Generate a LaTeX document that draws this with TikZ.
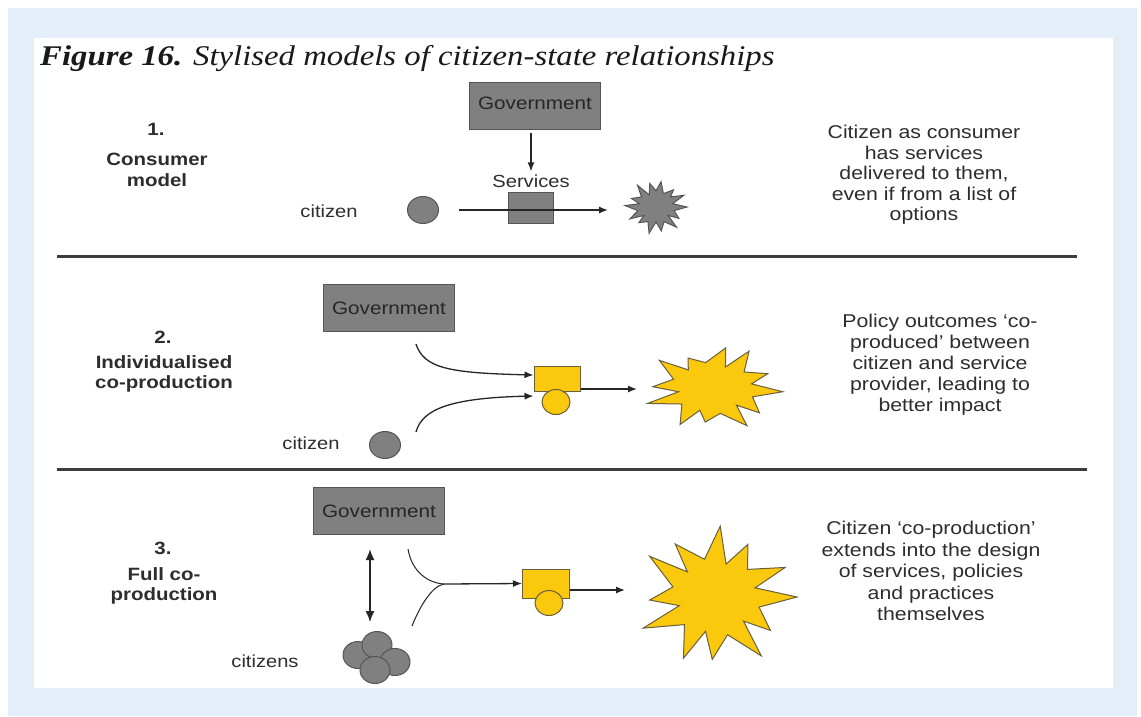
\documentclass[tikz,border=0pt]{standalone}
\usepackage{fontspec}
\setmainfont{Liberation Serif}[FakeStretch=1.15]
\newfontfamily\arialw{Liberation Sans}[FakeStretch=1.15]
\usetikzlibrary{shapes.geometric,arrows.meta}
\definecolor{bgblue}{RGB}{228,238,248}
\definecolor{govfill}{RGB}{128,128,128}
\definecolor{govline}{RGB}{85,85,85}
\definecolor{txt}{RGB}{45,45,45}
\definecolor{yel}{RGB}{250,200,12}
\definecolor{yelline}{RGB}{105,95,60}
\definecolor{rulec}{RGB}{60,60,60}
\tikzset{
  govbox/.style={draw=govline, fill=govfill, line width=1.2pt, minimum width=131pt, minimum height=47pt, inner sep=0pt,
    font=\arialw\fontsize{18}{20}\selectfont, text=black!85},
  lbl/.style={font=\arialw\bfseries\fontsize{17.8}{20.5}\selectfont, text=txt, align=center, inner sep=0pt},
  desc/.style={font=\arialw\fontsize{18.5}{20.5}\selectfont, text=txt, align=center, inner sep=0pt},
  plain/.style={font=\arialw\fontsize{17.5}{20}\selectfont, text=txt, inner sep=0pt},
  dot/.style={ellipse, draw=govline, fill=govfill, line width=1pt, minimum width=31pt, minimum height=27pt, inner sep=0pt},
  svcbox/.style={draw=govline, fill=govfill, line width=1pt, minimum width=45pt, minimum height=31pt, inner sep=0pt},
  ybox/.style={draw=yelline, fill=yel, line width=1pt, minimum width=46pt, minimum height=25pt, inner sep=0pt},
  ydot/.style={ellipse, draw=yelline, fill=yel, line width=1pt, minimum width=28pt, minimum height=25pt, inner sep=0pt},
  arr/.style={-{Latex[length=9pt,width=7pt]}, line width=1.3pt, black!85},
  darr/.style={{Latex[length=11pt,width=9pt]}-{Latex[length=11pt,width=9pt]}, line width=1.4pt, black!85},
  curve/.style={line width=1pt, black!85},
  rulel/.style={line width=3pt, rulec},
  burstg/.style={fill=govfill, draw=govline, line width=1pt, line join=miter},
  bursty/.style={fill=yel, draw=yelline, line width=1pt, line join=miter},
}
\begin{document}
\begin{tikzpicture}[x=1pt,y=-1pt]
\useasboundingbox (0,0) rectangle (1141,716);
\fill[white] (0,0) rectangle (1141,716);
\fill[bgblue] (8,8) rectangle (1137,716);
\fill[white] (34,38) rectangle (1113,688);

% title
\node[anchor=base west, inner sep=0pt, text=black!90] (title) at (40,65)
  {\fontsize{28.5}{31}\selectfont\textbf{\textit{Figure 16.}} \textit{Stylised models of citizen-state relationships}};

% dividers
\coordinate (r1a) at (57,256); \coordinate (r1b) at (1077,256);
\coordinate (r2a) at (57,469); \coordinate (r2b) at (1087,469);
\draw[rulel] (r1a) -- (r1b);
\draw[rulel] (r2a) -- (r2b);

% ---------- section 1
\node[lbl] (n1) at (156,129) {1.};
\node[lbl] (l1) at (157,170) {Consumer\\model};
\node[govbox] (gov1) at (535,106) {\raisebox{6pt}{Government}};
\node[plain] (svl) at (531,181) {Services};
\node[svcbox] (svc) at (531,208) {};
\draw[arr] ([xshift=-4pt,yshift=-3pt]gov1.south) -- ([yshift=3pt]svl.north -| 531,0);
\node[plain] (cit1) at (329,211) {citizen};
\node[dot] (c1) at (423,210) {};
\coordinate (s1) at (656,207);
\begin{scope}[shift={(s1)}]
\filldraw[burstg] (0:31 and 27) \foreach \i/\f/\d/\g in {1/0.85/4/0.6,2/1.0/-3/0.5,3/0.9/2/0.6,4/1.0/0/0.55,5/0.8/5/0.6,6/0.95/-2/0.5,7/1.0/3/0.6,8/0.85/-4/0.55,9/1.0/2/0.6,10/0.9/0/0.5,11/0.95/-3/0.6,12/0.85/3/0.55,13/1.0/0/0.6}
  { -- ({\i*360/14-360/28}:{31*\g} and {27*\g}) -- ({\i*360/14+\d}:{31*\f} and {27*\f}) } -- ({-360/28}:{31*0.55} and {27*0.55}) -- cycle;
\end{scope}
\coordinate (s1in) at (608,210);
\draw[arr] ([xshift=20pt]c1.east) -- (s1in);
\node[desc] (d1) at (924,175) {Citizen as consumer\\has services\\delivered to them,\\even if from a list of\\options};

% ---------- section 2
\node[lbl] (n2) at (163,337) {2.};
\node[lbl] (l2) at (164,374) {Individualised\\co-production};
\node[govbox] (gov2) at (389,308) {Government};
\coordinate (g2o) at (416,344);
\node[plain] (cit2) at (311,443) {citizen};
\node[dot] (c2) at (385,445) {};
\coordinate (c2o) at (416,432);
\node[ybox] (yb2) at (557,378.5) {};
\node[ydot] (yd2) at (556,402) {};
\draw[curve, arr] (g2o) .. controls (424,368) and (448,373) .. ([yshift=3.5pt]yb2.west);
\draw[curve, arr] (c2o) .. controls (422,410) and (448,398) .. ([yshift=-17.5pt]yb2.west);
\coordinate (s2) at (713,388);
\begin{scope}[shift={(s2)}]
\filldraw[bursty] (5:70 and 43) \foreach \i/\f/\d/\g in {1/0.88/6/0.6,2/1.0/-4/0.52,3/0.8/3/0.6,4/0.97/-6/0.55,5/1.0/4/0.58,6/0.86/-3/0.5,7/1.0/5/0.6,8/0.78/-2/0.55,9/0.95/6/0.6,10/1.0/-4/0.52,11/0.85/2/0.58}
  { -- ({5+\i*360/12-15}:{70*\g} and {43*\g}) -- ({5+\i*360/12+\d}:{70*\f} and {43*\f}) } -- ({5-15}:{70*0.56} and {43*0.56}) -- cycle;
\end{scope}
\coordinate (s2in) at (637,389);
\draw[arr] ([yshift=-10.5pt]yb2.east) -- (s2in);
\node[desc, font=\arialw\fontsize{18.5}{21}\selectfont] (d2) at (940,365) {Policy outcomes ‘co-\\produced’ between\\citizen and service\\provider, leading to\\better impact};

% ---------- section 3
\node[lbl] (n3) at (163,548) {3.};
\node[lbl] (l3) at (164,586) {Full co-\\production};
\node[govbox] (gov3) at (379,511) {Government};
\node[plain] (cit3) at (265,661) {citizens};
\node[dot, minimum width=30pt, minimum height=27pt] (k1) at (358,655) {};
\node[dot, minimum width=30pt, minimum height=27pt] (k2) at (377,645) {};
\node[dot, minimum width=30pt, minimum height=27pt] (k3) at (395,662) {};
\node[dot, minimum width=30pt, minimum height=27pt] (k4) at (375,670) {};
\draw[darr] ([shift={(-9,14)}]gov3.south) -- ([shift={(-7,-9)}]k2.north);
\coordinate (j3) at (444,584);
\draw[curve] ([shift={(29,14)}]gov3.south) .. controls (412,572) and (428,583) .. (j3);
\draw[curve] ([shift={(35,-5)}]k2.north) .. controls (420,606) and (432,586) .. (j3);
\node[ybox, minimum width=47pt, minimum height=29pt] (yb3) at (546,583.5) {};
\node[ydot] (yd3) at (549,603) {};
\draw[arr] (j3) -- (yb3.west);
\coordinate (s3) at (716,597);
\begin{scope}[shift={(s3)}]
\filldraw[bursty] (0:81 and 71) \foreach \i/\f/\d/\g in {1/0.82/5/0.55,2/1.0/-4/0.48,3/0.88/3/0.55,4/0.95/-5/0.5,5/1.0/4/0.55,6/0.82/-3/0.47,7/1.0/5/0.55,8/0.9/-4/0.5,9/1.0/3/0.55,10/0.84/-2/0.48,11/0.95/4/0.55}
  { -- ({\i*360/12-15}:{81*\g} and {71*\g}) -- ({\i*360/12+\d}:{81*\f} and {71*\f}) } -- ({-15}:{81*0.5} and {71*0.5}) -- cycle;
\end{scope}
\coordinate (s3in) at (625,590);
\draw[arr] ([yshift=-6.5pt]yb3.east) -- (s3in);
\node[desc, font=\arialw\fontsize{18.5}{21.5}\selectfont] (d3) at (931,571) {Citizen ‘co-production’\\extends into the design\\of services, policies\\and practices\\themselves};
\end{tikzpicture}
\end{document}
